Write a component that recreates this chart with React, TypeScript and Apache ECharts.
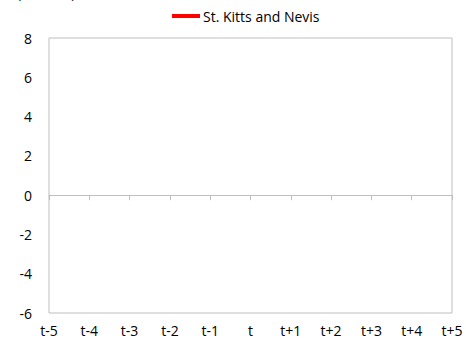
import React, { useEffect, useRef } from "react";
import * as echarts from "echarts";

const categories = ["t-5", "t-4", "t-3", "t-2", "t-1", "t", "t+1", "t+2", "t+3", "t+4", "t+5"];
const seriesName = "St. Kitts and Nevis";
const seriesValues: (number | null)[] = [null, null, null, null, null, null, null, null, null, null, null];
const yMin = -6;
const yMax = 8;
const yInterval = 2;
const unitLabel = "(Percent)";

export default function App() {
  const ref = useRef<HTMLDivElement>(null);
  useEffect(() => {
    document.body.style.margin = "0";
    const chart = echarts.init(ref.current!, null, { renderer: "svg" });
    const font = "'Open Sans', 'Noto Sans', sans-serif";
    chart.setOption({
      animation: false,
      backgroundColor: "#fff",
      textStyle: { fontFamily: font },
      graphic: [
        {
          type: "text",
          left: 17,
          top: -15,
          style: { text: unitLabel, fontSize: 14, fontFamily: font, fill: "#000" },
        },
      ],
      legend: {
        left: 172,
        top: 9,
        padding: 0,
        icon: "rect",
        itemWidth: 28,
        itemHeight: 4,
        itemGap: 10,
        textStyle: { fontSize: 14, color: "#000", fontFamily: font, padding: [0, 0, 0, -2] },
        data: [seriesName],
      },
      grid: {
        left: 49,
        right: 14,
        top: 38,
        bottom: 32,
        show: true,
        borderColor: "#bfbfbf",
        borderWidth: 1,
        containLabel: false,
      },
      xAxis: [
        {
          type: "category",
          data: categories,
          boundaryGap: false,
          position: "bottom",
          axisLine: { show: false, onZero: false },
          axisTick: { show: false },
          axisLabel: { color: "#000", fontSize: 14, margin: 10, fontFamily: font },
          splitLine: { show: false },
        },
        {
          type: "category",
          data: categories,
          boundaryGap: false,
          position: "bottom",
          axisLine: { show: true, onZero: true, lineStyle: { color: "#bfbfbf", width: 1 } },
          axisTick: { show: true, length: 5, lineStyle: { color: "#bfbfbf" } },
          axisLabel: { show: false },
          splitLine: { show: false },
        },
      ],
      yAxis: {
        type: "value",
        min: yMin,
        max: yMax,
        interval: yInterval,
        axisLine: { show: false, onZero: false },
        axisTick: { show: false },
        splitLine: { show: false },
        axisLabel: { color: "#000", fontSize: 14, margin: 17, fontFamily: font },
      },
      series: [
        {
          name: seriesName,
          type: "line",
          data: seriesValues,
          xAxisIndex: 0,
          symbol: "none",
          itemStyle: { color: "#ff0000" },
          lineStyle: { color: "#ff0000", width: 3 },
        },
      ],
    });
    return () => chart.dispose();
  }, []);
  return <div ref={ref} style={{ width: 466, height: 345 }} />;
}
